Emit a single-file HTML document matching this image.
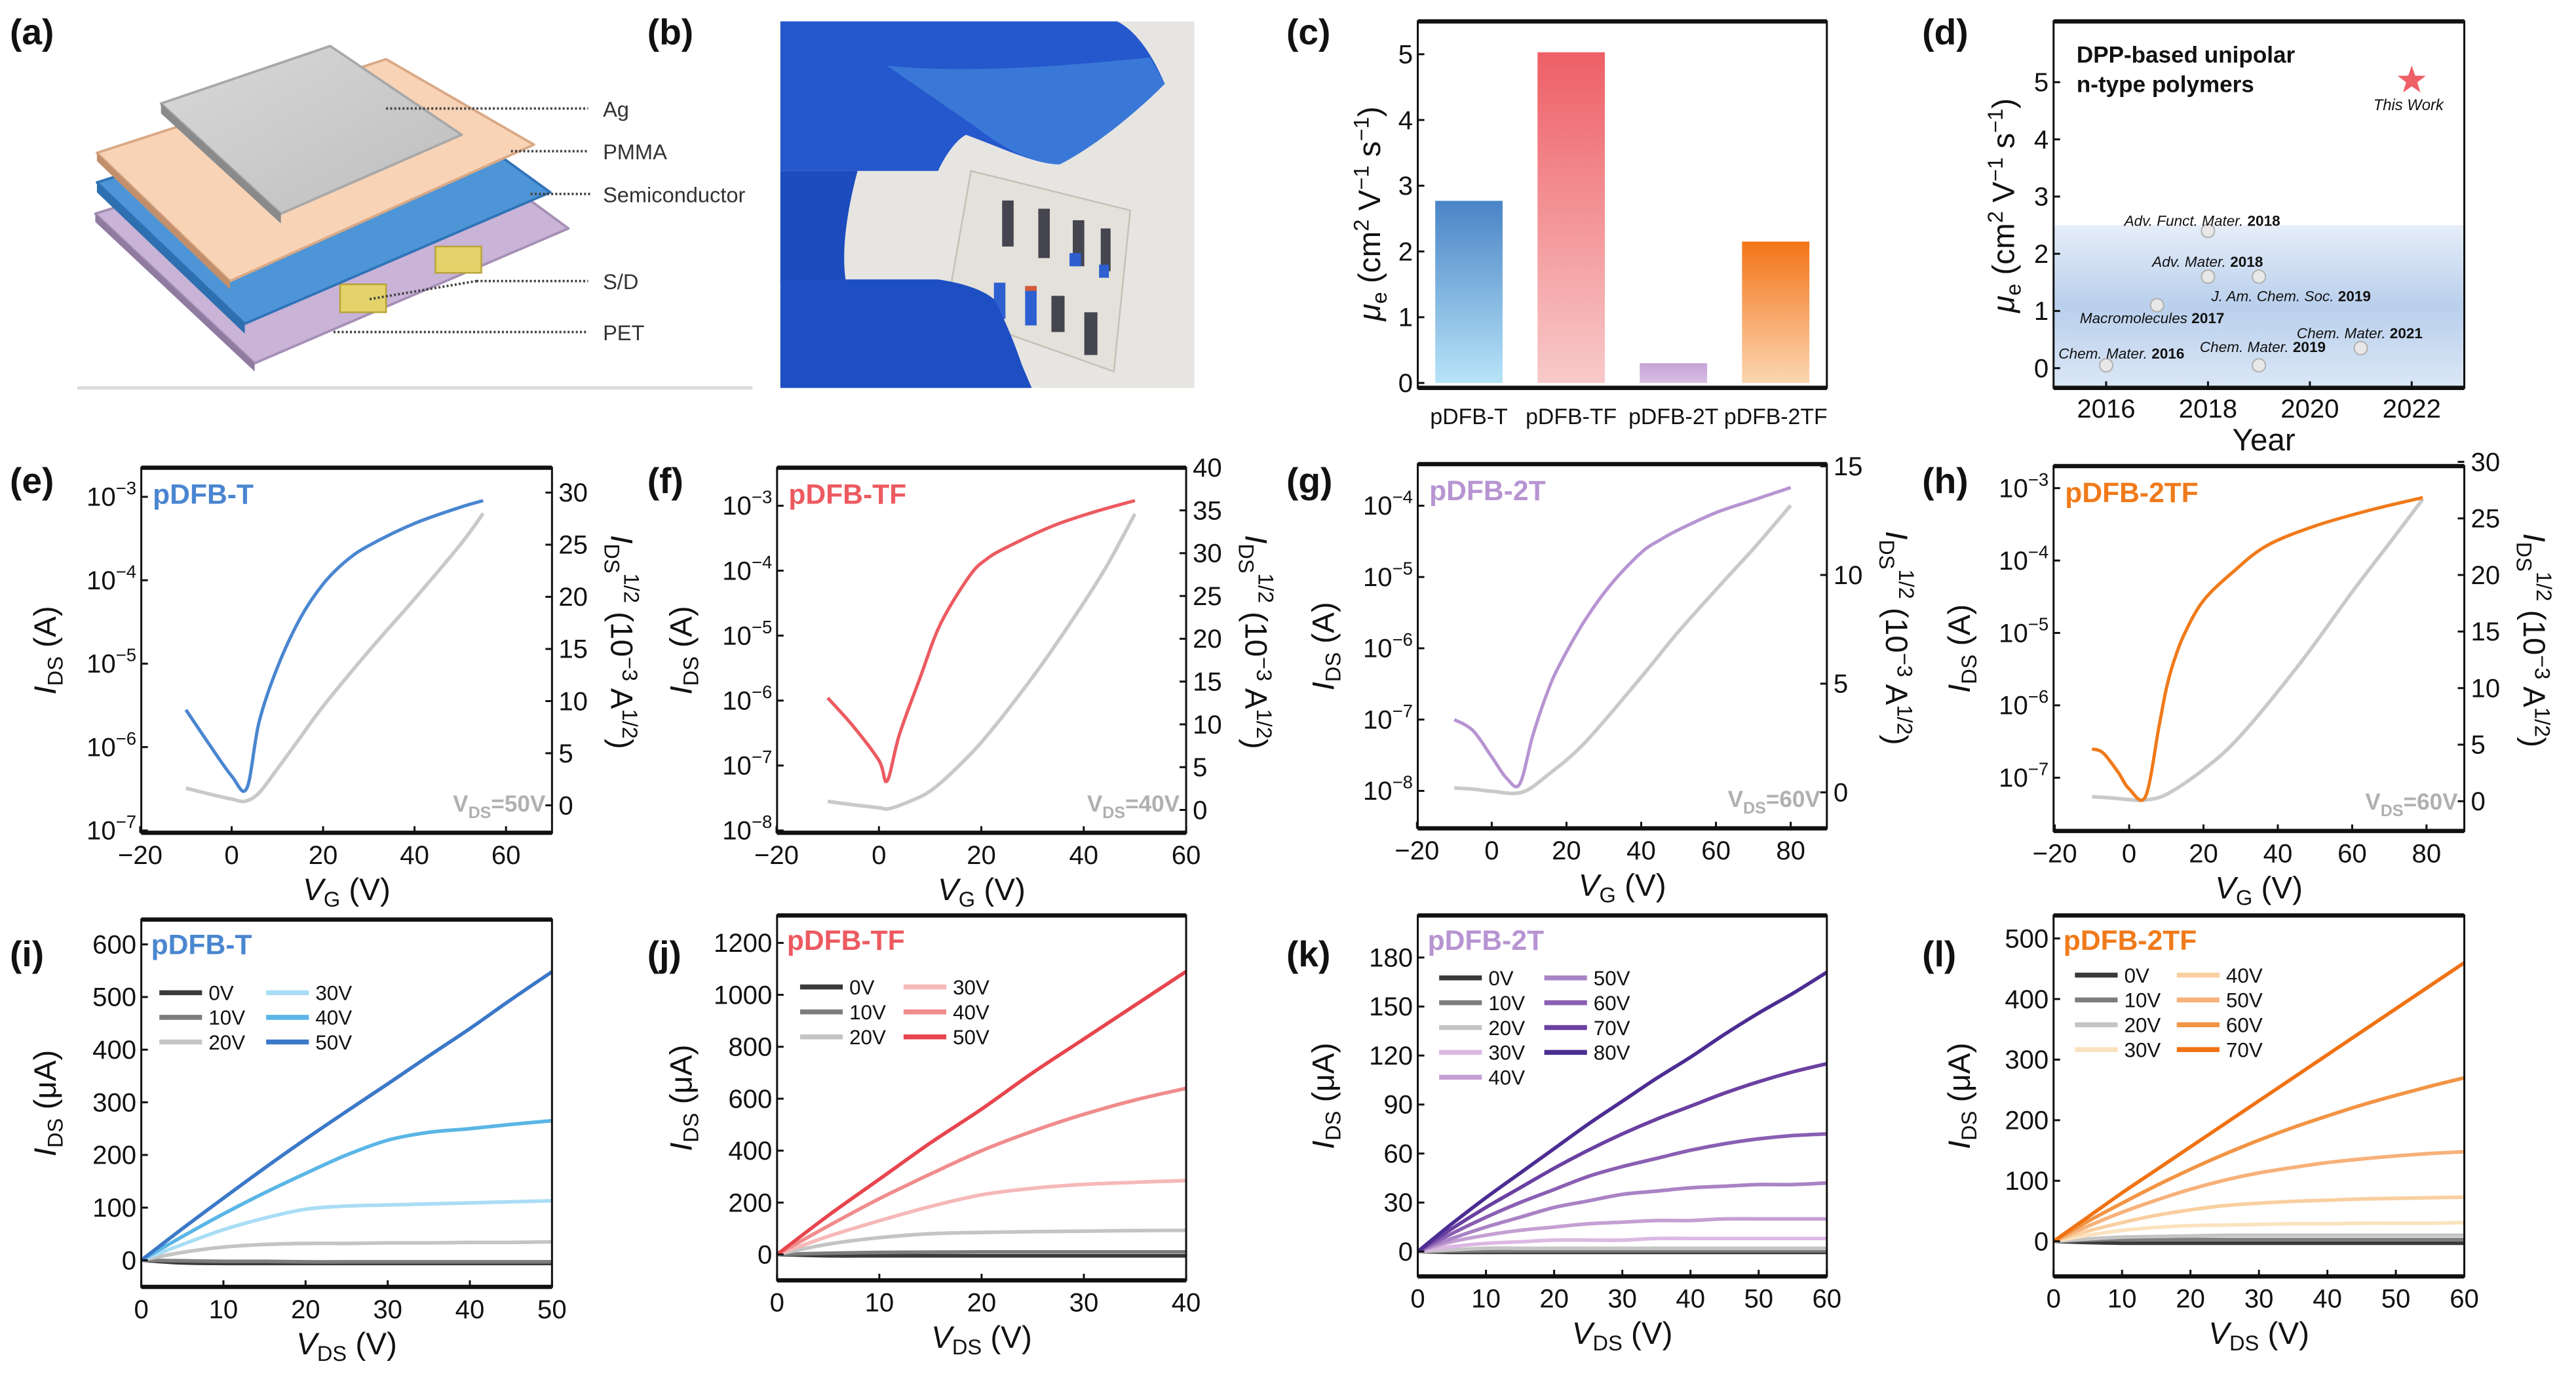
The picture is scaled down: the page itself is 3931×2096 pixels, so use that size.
<!DOCTYPE html>
<html><head><meta charset="utf-8"><style>
html,body{margin:0;padding:0;background:#fff;}
svg{display:block;font-family:"Liberation Sans",Arial,sans-serif;}
</style></head><body>
<svg id="fig" xmlns="http://www.w3.org/2000/svg" width="3931" height="2096" viewBox="0 0 1568 836" preserveAspectRatio="none">
<defs>
<linearGradient id="gT" x1="0" y1="0" x2="0" y2="1"><stop offset="0" stop-color="#4a84c6"/><stop offset="1" stop-color="#b7e4f8"/></linearGradient>
<linearGradient id="gTF" x1="0" y1="0" x2="0" y2="1"><stop offset="0" stop-color="#ee5f66"/><stop offset="1" stop-color="#f8caca"/></linearGradient>
<linearGradient id="g2T" x1="0" y1="0" x2="0" y2="1"><stop offset="0" stop-color="#c6a3d6"/><stop offset="1" stop-color="#d8bfe2"/></linearGradient>
<linearGradient id="g2TF" x1="0" y1="0" x2="0" y2="1"><stop offset="0" stop-color="#f37418"/><stop offset="1" stop-color="#fbd6b2"/></linearGradient>
<linearGradient id="gBand" x1="0" y1="0" x2="0" y2="1"><stop offset="0" stop-color="#e6eef9"/><stop offset="0.5" stop-color="#b9cfec"/><stop offset="1" stop-color="#dbe7f6"/></linearGradient>
<linearGradient id="gAg" x1="0" y1="0" x2="1" y2="1"><stop offset="0" stop-color="#d9d9d9"/><stop offset="1" stop-color="#bdbdbd"/></linearGradient>
</defs>

<!-- Panel labels -->
<g font-weight="bold" font-size="22" fill="#111">
<text x="6" y="27">(a)</text>
<text x="394" y="27">(b)</text>
<text x="783" y="27">(c)</text>
<text x="1170" y="27">(d)</text>
<text x="6" y="300">(e)</text>
<text x="394" y="300">(f)</text>
<text x="783" y="300">(g)</text>
<text x="1170" y="300">(h)</text>
<text x="6" y="588">(i)</text>
<text x="394" y="588">(j)</text>
<text x="783" y="588">(k)</text>
<text x="1170" y="588">(l)</text>
</g>

<!-- Panel a: device schematic -->
<g>
<polygon points="58,130 252,70 346,139 155,221" fill="#c9b3d6" stroke="#a58fb5" stroke-width="1.5" stroke-linejoin="round"/>
<polygon points="58,130 155,221 155,226 58,135" fill="#8f7aa0"/>
<rect x="265" y="150" width="28" height="16" fill="#e4d36a" stroke="#b8a53a"/>
<rect x="207" y="173" width="28" height="17" fill="#e4d36a" stroke="#b8a53a"/>
<polygon points="59,111 245,52 335,117 149,197" fill="#4d95d6" stroke="#2f73b8" stroke-width="1.5" stroke-linejoin="round"/>
<polygon points="59,111 149,197 149,203 59,117" fill="#2e6fb0"/>
<polygon points="59,93 235,36 325,88 140,171" fill="#f8d3b6" stroke="#d9a884" stroke-width="1.5" stroke-linejoin="round"/>
<polygon points="59,93 140,171 140,176 59,98" fill="#c18f6c"/>
<polygon points="98,63 201,28 281,82 171,130" fill="url(#gAg)" stroke="#a8a8a8" stroke-width="1.5" stroke-linejoin="round"/>
<polygon points="98,63 171,130 171,136 98,69" fill="#8a8a8a"/>
<g stroke="#444" stroke-width="1.5" stroke-dasharray="1.2,1.3">
<line x1="235" y1="66" x2="358" y2="66"/>
<line x1="311" y1="92" x2="358" y2="92"/>
<line x1="323" y1="118" x2="360" y2="118"/>
<line x1="290" y1="171" x2="358" y2="171"/>
<line x1="225" y1="182" x2="290" y2="171"/>
<line x1="203" y1="202" x2="358" y2="202"/>
</g>
<g font-size="13" fill="#333">
<text x="367" y="71">Ag</text>
<text x="367" y="97">PMMA</text>
<text x="367" y="123">Semiconductor</text>
<text x="367" y="176">S/D</text>
<text x="367" y="207">PET</text>
</g>
<line x1="47" y1="236" x2="458" y2="236" stroke="#ddd" stroke-width="2"/>
</g>

<!-- Panel b: photo -->
<g>
<rect x="475" y="13" width="252" height="223" fill="#e6e5e2"/>
<path d="M475,104 L571,104 C575,95 582,85 588,82 C610,90 630,100 645,100 C665,90 690,70 709,51 C700,30 690,18 680,13 L475,13 Z" fill="#2458cc"/>
<path d="M540,40 C590,45 650,40 700,35 L709,51 C690,70 665,90 645,100 C630,100 610,90 595,78 Z" fill="#3a78d8"/>
<path d="M475,104 L522,104 C515,130 512,155 515,172 L475,172 Z" fill="#1c4cbe"/>
<polygon points="591,104 688,128 678,226 576,190" fill="#e3e1da" stroke="#c5c1b8"/>
<g fill="#45454f">
<rect x="610" y="122" width="7" height="28"/><rect x="632" y="127" width="7" height="30"/><rect x="653" y="134" width="7" height="28"/><rect x="670" y="139" width="6" height="26"/>
<rect x="640" y="180" width="8" height="22"/><rect x="660" y="190" width="8" height="26"/>
</g>
<rect x="651" y="154" width="7" height="8" fill="#2d5fd0"/><rect x="669" y="161" width="6" height="8" fill="#2d5fd0"/>
<rect x="605" y="172" width="7" height="22" fill="#2d5fd0"/><rect x="624" y="176" width="7" height="22" fill="#2d5fd0"/><rect x="624" y="174" width="7" height="3" fill="#d05a3a"/>
<path d="M475,236 L475,170 L571,170 C585,172 598,176 605,182 C612,195 618,210 622,222 L628,236 Z" fill="#1d4fc2"/>
</g>

<!-- Static axis titles -->
<g font-size="19" fill="#111" text-anchor="middle">
<text transform="translate(840,130) rotate(-90)"><tspan font-style="italic">μ</tspan><tspan dy="4" font-size="13">e</tspan><tspan dy="-4"> (cm</tspan><tspan dy="-7" font-size="13">2</tspan><tspan dy="7"> V</tspan><tspan dy="-7" font-size="13">−1</tspan><tspan dy="7"> s</tspan><tspan dy="-7" font-size="13">−1</tspan><tspan dy="7">)</tspan></text>
<text transform="translate(1226,125) rotate(-90)"><tspan font-style="italic">μ</tspan><tspan dy="4" font-size="13">e</tspan><tspan dy="-4"> (cm</tspan><tspan dy="-7" font-size="13">2</tspan><tspan dy="7"> V</tspan><tspan dy="-7" font-size="13">−1</tspan><tspan dy="7"> s</tspan><tspan dy="-7" font-size="13">−1</tspan><tspan dy="7">)</tspan></text>
<text x="1378" y="274">Year</text>
</g>
<g font-weight="bold" font-size="14" fill="#111">
<text x="1264" y="38">DPP-based unipolar</text>
<text x="1264" y="56">n-type polymers</text>
</g>

<g id="charts"></g>
</svg>

<script>
// ---------- data ----------
const cCategories = ['pDFB-T','pDFB-TF','pDFB-2T','pDFB-2TF'];
const cMobility = [2.77, 5.03, 0.3, 2.15];
const cTicks = [0,1,2,3,4,5];

const dYears = [2016, 2017, 2018, 2018, 2019, 2019, 2021];
const dMobility = [0.05, 1.1, 2.4, 1.6, 1.6, 0.05, 0.35];
const dLabels = ['Chem. Mater.|2016','Macromolecules|2017','Adv. Funct. Mater.|2018','Adv. Mater.|2018','J. Am. Chem. Soc.|2019','Chem. Mater.|2019','Chem. Mater.|2021'];
const dThisWorkYear = 2022;
const dThisWorkMobility = 5.03;
const dXTicks = [2016,2018,2020,2022];
const dYTicks = [0,1,2,3,4,5];

const eVg = [-10,-5,0,3.3,6,10,15,20,25,30,40,50,55];
const eId = [2.8e-6,1.1e-6,4.5e-7,3.2e-7,2e-6,9e-6,3.5e-5,9e-5,1.7e-4,2.6e-4,4.8e-4,7.5e-4,9e-4];
const eVgSq = [-10,-5,0,3,6,10,15,20,30,40,50,55];
const eSqrt = [1.65,1.1,0.6,0.4,1.2,3.5,6.5,9.5,14.8,19.8,25,28];

const fVg = [-10,-5,0,1.6,4,8,12,17.7,21,25,34,42,50];
const fId = [1.1e-6,4e-7,1.2e-7,5.8e-8,3e-7,2.2e-6,1.5e-5,8.3e-5,1.5e-4,2.3e-4,4.9e-4,8e-4,1.2e-3];
const fVgSq = [-10,-5,0,2,6,10,15,21,30,37,44,50];
const fSqrt = [1.0,0.6,0.25,0.15,1.0,2.2,4.8,8.6,15.5,21.5,28,34.6];

const gVg = [-10,-5,0,4,7.5,11,15,18.4,25,32,40,45,50,60,70,80];
const gId = [1e-7,7e-8,3e-8,1.5e-8,1.25e-8,6e-8,2.5e-7,6.2e-7,2.5e-6,8e-6,2.2e-5,3.3e-5,4.6e-5,8e-5,1.2e-4,1.8e-4];
const gVgSq = [-10,-5,0,8,15,25,40,50,62,70,80];
const gSqrt = [0.2,0.15,0.05,0,0.8,2.3,5.3,7.4,9.7,11.2,13.2];

const hVg = [-10,-7,-3,0,4.4,8,10,12,15,20,28,37,50,65,79];
const hId = [2.5e-7,2.2e-7,1.2e-7,7e-8,5.5e-8,5e-7,1.7e-6,4e-6,1e-5,2.8e-5,7e-5,1.6e-4,3e-4,5e-4,7.4e-4];
const hVgSq = [-10,-5,0,4,10,20,30,46,60,70,79];
const hSqrt = [0.4,0.3,0.15,0.1,0.6,2.8,5.8,12.2,18.5,22.8,26.7];

const iVds = [0,5,10,15,20,25,30,35,40,45,50];
const iGates = ['0V','10V','20V','30V','40V','50V'];
const iCurrent = [
 [0,-5,-6,-6,-6,-6,-6,-6,-6,-6,-6],
 [0,-1,-2,-2,-3,-3,-3,-3,-3,-3,-3],
 [0,15,25,30,32,32,33,33,34,34,35],
 [0,30,58,80,97,103,105,107,109,111,113],
 [0,45,88,128,165,200,228,243,250,258,265],
 [0,60,118,175,230,283,335,388,440,495,548]];
const jVds = [0,5,10,15,20,25,30,35,40];
const jGates = ['0V','10V','20V','30V','40V','50V'];
const jCurrent = [
 [0,-5,-5,-5,-5,-5,-5,-5,-5],
 [0,5,8,9,10,10,10,10,10],
 [0,40,65,80,85,88,90,92,93],
 [0,70,130,185,230,255,270,278,285],
 [0,110,215,310,400,475,540,595,640],
 [0,150,290,430,560,700,830,960,1090]];
const kVds = [0,5,10,15,20,25,30,35,40,45,50,55,60];
const kGates = ['0V','10V','20V','30V','40V','50V','60V','70V','80V'];
const kCurrent = [
 [0,-0.5,-0.5,-0.5,-0.5,-0.5,-0.5,-0.5,-0.5,-0.5,-0.5,-0.5,-0.5],
 [0,0.3,0.4,0.5,0.5,0.5,0.5,0.5,0.5,0.5,0.5,0.5,0.5],
 [0,1,2,2,2,2,2,2,2,2,2,2,2],
 [0,3,5,6,7,7,7,8,8,8,8,8,8],
 [0,6,10,13,15,17,18,19,19,20,20,20,20],
 [0,8,15,21,27,31,35,37,39,40,41,41,42],
 [0,11,21,30,38,46,52,57,62,66,69,71,72],
 [0,14,27,39,51,62,72,81,89,97,104,110,115],
 [0,17,33,48,63,78,92,106,119,133,146,158,171]];
const lVds = [0,5,10,15,20,25,30,35,40,45,50,55,60];
const lGates = ['0V','10V','20V','30V','40V','50V','60V','70V'];
const lCurrent = [
 [0,-2,-3,-3,-3,-3,-3,-3,-3,-3,-3,-3,-3],
 [0,2,3,3,3,3,3,3,3,3,3,3,3],
 [0,4,7,8,9,10,10,10,10,10,10,10,10],
 [0,10,18,23,26,27,28,29,29,30,30,30,31],
 [0,17,31,43,52,59,63,66,68,70,71,72,73],
 [0,25,48,68,86,101,113,122,130,136,141,145,148],
 [0,33,63,92,119,144,167,188,207,225,241,256,270],
 [0,40,80,118,156,194,232,270,308,346,384,422,460]];

// ---------- helpers ----------
const NS = 'http://www.w3.org/2000/svg';
const root = document.getElementById('charts');
function el(tag, attrs, parent){
  const e = document.createElementNS(NS, tag);
  for (const k in attrs) e.setAttribute(k, attrs[k]);
  (parent || root).appendChild(e);
  return e;
}
function lin(d0,d1,r0,r1){ return v => r0 + (v-d0)/(d1-d0)*(r1-r0); }
function smooth(pts){
  let d = 'M' + pts[0][0].toFixed(2) + ',' + pts[0][1].toFixed(2);
  for (let i=0;i<pts.length-1;i++){
    const p0 = pts[i-1]||pts[i], p1 = pts[i], p2 = pts[i+1], p3 = pts[i+2]||pts[i+1];
    const c1 = [p1[0]+(p2[0]-p0[0])/6, p1[1]+(p2[1]-p0[1])/6];
    const c2 = [p2[0]-(p3[0]-p1[0])/6, p2[1]-(p3[1]-p1[1])/6];
    d += ' C'+c1[0].toFixed(2)+','+c1[1].toFixed(2)+' '+c2[0].toFixed(2)+','+c2[1].toFixed(2)+' '+p2[0].toFixed(2)+','+p2[1].toFixed(2);
  }
  return d;
}
function frame(x0,x1,y0,y1,name){
  const g = el('g',{});
  
  
  el('rect',{x:x0,y:y0,width:x1-x0,height:y1-y0,fill:'none',stroke:'#111','stroke-width':1.2},g);
  el('line',{x1:x0,y1:y0,x2:x1,y2:y0,stroke:'#111','stroke-width':2.6},g);
  el('line',{x1:x0,y1:y1,x2:x1,y2:y1,stroke:'#111','stroke-width':2.6},g);
  return g;
}
function xTicks(ticks, sx, y1, yLab, name, labels){
  ticks.forEach((t,i) => {
    const ln = el('line',{x1:sx(t),y1:y1,x2:sx(t),y2:y1-4,stroke:'#111','stroke-width':1.2});
    
    
    const tx = el('text',{x:sx(t),y:yLab,'font-size':16,'text-anchor':'middle',fill:'#111'});
    
    
    tx.textContent = labels ? labels[i] : String(t).replace('-','−');
  });
}
function yTicks(ticks, sy, x, side, name, fmt){
  ticks.forEach(t => {
    const dir = side==='left' ? 1 : -1;
    const ln = el('line',{x1:x,y1:sy(t),x2:x+4*dir,y2:sy(t),stroke:'#111','stroke-width':1.2});
    
    
    const tx = el('text',{x: side==='left'? x-3 : x+4, y: sy(t)+5.5,'font-size':16,'text-anchor': side==='left'?'end':'start',fill:'#111'});
    
    
    if (fmt==='log'){
      tx.textContent = '10';
      const s = el('tspan',{dy:-7,'font-size':11},tx);
      s.textContent = '−' + Math.abs(t);
    } else tx.textContent = String(t);
  });
}
function richText(parts, attrs, name){
  const t = el('text', attrs);
  
  
  parts.forEach(p => {
    const s = el('tspan', p.a || {}, t);
    s.textContent = p.t;
  });
  return t;
}

// ---------- panel c ----------
(function(){
  const x0=863,x1=1112,y0=13,y1=236;
  const sy = lin(0,5,233,33);
  const fills = ['url(#gT)','url(#gTF)','url(#g2T)','url(#g2TF)'];
  const bw = (x1-x0)/cCategories.length;
  cCategories.forEach((c,i) => {
    const cx = x0 + bw*(i+0.5);
    const b = el('rect',{x:cx-20.5,y:sy(cMobility[i]),width:41,height:sy(0)-sy(cMobility[i]),fill:fills[i]});
    
    
    const t = el('text',{x:cx,y:258,'font-size':13.5,'text-anchor':'middle',fill:'#111'});
    
    
    t.textContent = c;
  });
  frame(x0,x1,y0,y1,'c-plot-frame');
  yTicks(cTicks, sy, x0, 'left', 'c-y');
})();

// ---------- panel d ----------
(function(){
  const x0=1250,x1=1500,y0=13,y1=236;
  const sx = lin(2016,2022,1282,1468), sy = lin(0,5,224,50);
  const band = el('rect',{x:x0,y:sy(2.5),width:x1-x0,height:y1-sy(2.5),fill:'url(#gBand)'});
  
  
  const offs = [[-29,-4],[-47,11],[-51,-3],[-34,-6],[-29,15],[-36,-8],[-39,-6]];
  dYears.forEach((y,i) => {
    const p = el('circle',{cx:sx(y),cy:sy(dMobility[i]),r:4,fill:'#e8e8e8',stroke:'#b0b0b0','stroke-width':0.8});
    
    
    const parts = dLabels[i].split('|');
    const t = el('text',{x:sx(y)+offs[i][0],y:sy(dMobility[i])+offs[i][1],'font-size':9,fill:'#111'});
    
    
    const a = el('tspan',{'font-style':'italic'},t); a.textContent = parts[0]+' ';
    const b = el('tspan',{'font-weight':'bold'},t); b.textContent = parts[1];
  });
  const cx = sx(dThisWorkYear), cy = sy(dThisWorkMobility);
  let pts=[];
  for(let k=0;k<10;k++){ const r = k%2?3.6:9; const a = -Math.PI/2 + k*Math.PI/5; pts.push((cx+r*Math.cos(a)).toFixed(2)+','+(cy+r*Math.sin(a)).toFixed(2)); }
  const st = el('polygon',{points:pts.join(' '),fill:'#ee5f66'});
  
  
  const tw = el('text',{x:cx-2,y:cy+18,'font-size':9.5,'font-style':'italic','text-anchor':'middle',fill:'#111'});
  
  
  tw.textContent = 'This Work';
  frame(x0,x1,y0,y1,'d-plot-frame');
  yTicks(dYTicks, sy, x0, 'left', 'd-y');
  xTicks(dXTicks, sx, y1, 254, 'd-x');
})();

// ---------- transfer panels ----------
function transfer(cfg){
  const {x0,x1,y0,y1,sx,syLog,syR,vg,id,vgSq,sq,xt,lt,rt,color,name,vds,key,lx} = cfg;
  const gp = el('path',{d:smooth(vgSq.map((v,i)=>[sx(v),syR(sq[i])])),fill:'none',stroke:'#c9c9c9','stroke-width':2.2});
  
  
  const cp = el('path',{d:smooth(vg.map((v,i)=>[sx(v),syLog(Math.log10(id[i]))])),fill:'none',stroke:color,'stroke-width':2});
  
  
  frame(x0,x1,y0,y1,key+'-plot-frame');
  xTicks(xt, sx, y1, y1+19, key+'-x');
  yTicks(lt, syLog, x0, 'left', key+'-y-left', 'log');
  yTicks(rt, syR, x1, 'right', key+'-y-right');
  const nm = el('text',{x:x0+7,y:y0+22,'font-size':17,'font-weight':'bold',fill:color});
  
  
  nm.textContent = name;
  richText([{t:'V'},{t:'DS',a:{dy:4,'font-size':10}},{t:'='+vds,a:{dy:-4}}],{x:x1-4,y:y1-13,'font-size':14,'font-weight':'bold',fill:'#b0b0b0','text-anchor':'end'}, key+'-vds-label');
  const cxm = (x0+x1)/2;
  richText([{t:'V',a:{'font-style':'italic'}},{t:'G',a:{dy:4,'font-size':13}},{t:' (V)',a:{dy:-4}}],{x:cxm,y:y1+41,'font-size':19,'text-anchor':'middle',fill:'#111'}, key+'-x-axis-title');
  richText([{t:'I',a:{'font-style':'italic'}},{t:'DS',a:{dy:4,'font-size':13}},{t:' (A)',a:{dy:-4}}],{transform:'translate('+lx+','+((y0+y1)/2)+') rotate(-90)','font-size':19,'text-anchor':'middle',fill:'#111'}, key+'-left-axis-title');
  richText([{t:'I',a:{'font-style':'italic'}},{t:'DS',a:{dy:4,'font-size':13}},{t:'1/2',a:{dy:-12,'font-size':13}},{t:' (10',a:{dy:8}},{t:'−3',a:{dy:-7,'font-size':13}},{t:' A',a:{dy:7}},{t:'1/2',a:{dy:-7,'font-size':13}},{t:')',a:{dy:7}}],{transform:'translate('+(x1+36)+','+((y0+y1)/2-5)+') rotate(90)','font-size':19,'text-anchor':'middle',fill:'#111'}, key+'-right-axis-title');
}
transfer({key:'e',x0:86,x1:336,y0:284.6,y1:506.7,sx:lin(0,60,141,308),syLog:lin(-3,-7,302.3,505.3),syR:lin(0,30,490,299.7),
  vg:eVg,id:eId,vgSq:eVgSq,sq:eSqrt,xt:[-20,0,20,40,60],lt:[-3,-4,-5,-6,-7],rt:[0,5,10,15,20,25,30],color:'#4a86d0',name:'pDFB-T',vds:'50V',lx:34});
transfer({key:'f',x0:473,x1:722,y0:284.6,y1:506.7,sx:lin(0,60,535,722),syLog:lin(-3,-8,307.7,505.3),syR:lin(0,40,492.8,284.5),
  vg:fVg,id:fId,vgSq:fVgSq,sq:fSqrt,xt:[-20,0,20,40,60],lt:[-3,-4,-5,-6,-7,-8],rt:[0,5,10,15,20,25,30,35,40],color:'#ec5a60',name:'pDFB-TF',vds:'40V',lx:421});
transfer({key:'g',x0:863,x1:1112,y0:282.4,y1:504,sx:lin(0,80,908,1090),syLog:lin(-4,-8,307.7,481.2),syR:lin(0,15,482.1,283.7),
  vg:gVg,id:gId,vgSq:gVgSq,sq:gSqrt,xt:[-20,0,20,40,60,80],lt:[-4,-5,-6,-7,-8],rt:[0,5,10,15],color:'#b794d2',name:'pDFB-2T',vds:'60V',lx:812});
transfer({key:'h',x0:1250,x1:1500,y0:283.6,y1:505.6,sx:lin(0,80,1296,1477),syLog:lin(-3,-7,297,473.2),syR:lin(0,30,487.5,281),
  vg:hVg,id:hId,vgSq:hVgSq,sq:hSqrt,xt:[-20,0,20,40,60,80],lt:[-3,-4,-5,-6,-7],rt:[0,5,10,15,20,25,30],color:'#f07a1a',name:'pDFB-2TF',vds:'60V',lx:1199});

// ---------- output panels ----------
function output(cfg){
  const {key,x0,x1,y0,y1,sx,sy,vds,cur,gates,colors,xt,yt,color,name,legend,lx} = cfg;
  gates.forEach((g,gi) => {
    const p = el('path',{d:smooth(vds.map((v,i)=>[sx(v),sy(cur[gi][i])])),fill:'none',stroke:colors[gi],'stroke-width':2.2});
    
    
  });
  frame(x0,x1,y0,y1,key+'-plot-frame');
  xTicks(xt, sx, y1, y1+19, key+'-x');
  yTicks(yt, sy, x0, 'left', key+'-y');
  const nm = el('text',{x:x0+6,y:y0+21,'font-size':17,'font-weight':'bold',fill:color});
  
  
  nm.textContent = name;
  gates.forEach((g,gi) => {
    const col = gi < legend.rows ? 0 : 1;
    const row = col ? gi - legend.rows : gi;
    const lxp = legend.x + col*legend.dx, ly = legend.y + row*legend.dy;
    const ln = el('line',{x1:lxp,y1:ly,x2:lxp+26,y2:ly,stroke:colors[gi],'stroke-width':3});
    
    
    const t = el('text',{x:lxp+30,y:ly+4.5,'font-size':12.5,fill:'#111'});
    
    
    t.textContent = g;
  });
  richText([{t:'V',a:{'font-style':'italic'}},{t:'DS',a:{dy:4,'font-size':13}},{t:' (V)',a:{dy:-4}}],{x:(x0+x1)/2,y:y1+41,'font-size':19,'text-anchor':'middle',fill:'#111'}, key+'-x-axis-title');
  richText([{t:'I',a:{'font-style':'italic'}},{t:'DS',a:{dy:4,'font-size':13}},{t:' (μA)',a:{dy:-4}}],{transform:'translate('+lx+','+((y0+y1)/2)+') rotate(-90)','font-size':19,'text-anchor':'middle',fill:'#111'}, key+'-y-axis-title');
}
output({key:'i',x0:86,x1:336,y0:559.5,y1:783,sx:lin(0,50,86,336),sy:lin(0,600,766.8,574.6),vds:iVds,cur:iCurrent,gates:iGates,
  colors:['#3a3a3a','#7d7d7d','#c4c4c4','#a9ddf5','#5ab6e6','#3b78c8'],xt:[0,10,20,30,40,50],yt:[0,100,200,300,400,500,600],
  color:'#4a86d0',name:'pDFB-T',legend:{x:97,y:604,dx:65,dy:15,rows:3},lx:34});
output({key:'j',x0:473,x1:722,y0:557,y1:779,sx:lin(0,40,473,722),sy:lin(0,1200,763.3,573.7),vds:jVds,cur:jCurrent,gates:jGates,
  colors:['#3a3a3a','#7d7d7d','#c4c4c4','#f6b8b8','#f08c8c','#e8454e'],xt:[0,10,20,30,40],yt:[0,200,400,600,800,1000,1200],
  color:'#ec5a60',name:'pDFB-TF',legend:{x:487,y:600.5,dx:63,dy:15.2,rows:3},lx:421});
output({key:'k',x0:863,x1:1112,y0:557,y1:776.6,sx:lin(0,60,863,1112),sy:lin(0,180,761.5,582.6),vds:kVds,cur:kCurrent,gates:kGates,
  colors:['#3a3a3a','#7d7d7d','#c4c4c4','#dcb8e3','#c59fd3','#a983c5','#8a5fb3','#6a40a1','#4b2d92'],xt:[0,10,20,30,40,50,60],yt:[0,30,60,90,120,150,180],
  color:'#b794d2',name:'pDFB-2T',legend:{x:876,y:595,dx:64,dy:15.1,rows:5},lx:812});
output({key:'l',x0:1250,x1:1500,y0:557,y1:776.6,sx:lin(0,60,1250,1500),sy:lin(0,500,755.3,571),vds:lVds,cur:lCurrent,gates:lGates,
  colors:['#3a3a3a','#7d7d7d','#c4c4c4','#fbe2be','#f9cfa0','#f7b17a','#f29444','#f07212'],xt:[0,10,20,30,40,50,60],yt:[0,100,200,300,400,500],
  color:'#f07a1a',name:'pDFB-2TF',legend:{x:1263,y:593.3,dx:62,dy:15.1,rows:4},lx:1199});
</script>
</body></html>
